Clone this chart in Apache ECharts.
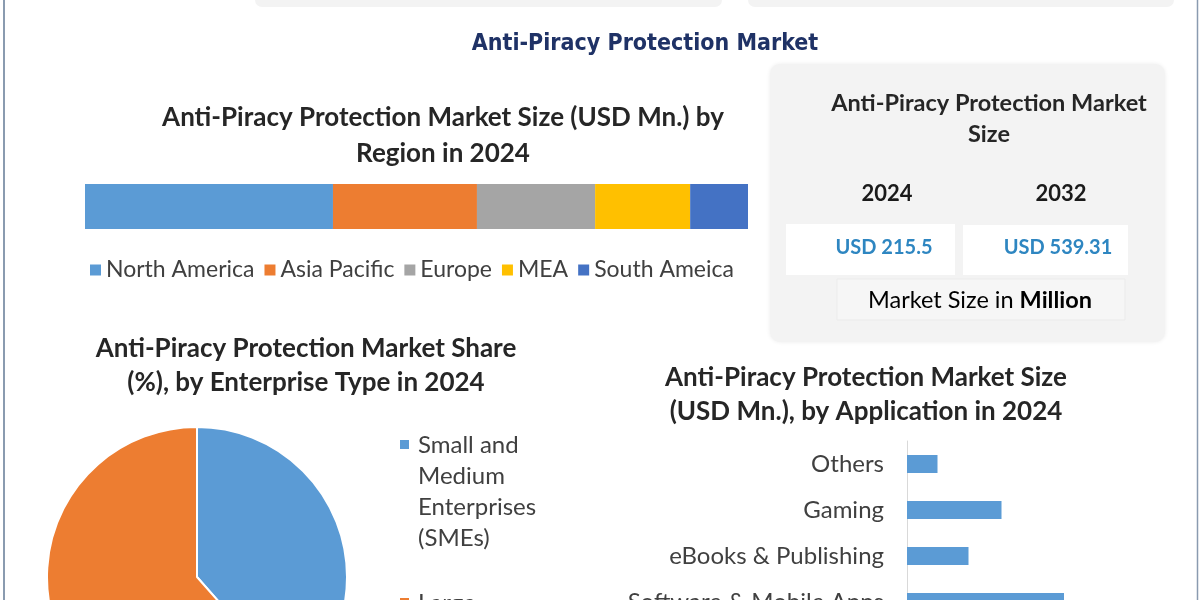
<!DOCTYPE html>
<html>
<head>
<meta charset="utf-8">
<script src="https://cdn.jsdelivr.net/npm/echarts@6/dist/echarts.min.js"></script>
<style>
html,body{margin:0;padding:0;background:#fff;}
#c{width:1200px;height:600px;}
</style>
</head>
<body>
<div id="c"></div>
<script>
// ---- data ----
const regionNames = ['North America', 'Asia Pacific', 'Europe', 'MEA', 'South Ameica'];
const regionValues = [80.6, 46.8, 38.4, 30.9, 18.8];
const regionColors = ['#5b9bd5', '#ed7d31', '#a5a5a5', '#ffc000', '#4472c4'];

const enterpriseTypes = ['Small and\nMedium\nEnterprises\n(SMEs)', 'Large\nEnterprises'];
const enterpriseShares = [38.5, 61.5];
const enterpriseColors = ['#5b9bd5', '#ed7d31'];

const applications = ['Others', 'Gaming', 'eBooks & Publishing', 'Software & Mobile Apps'];
const applicationValues = [12.2, 37.8, 24.6, 62.8];

const marketYears = ['2024', '2032'];
const marketSizes = ['215.5', '539.31'];

// ---- chart ----
const FONT = 'Lato, "Noto Sans", sans-serif';
const chart = echarts.init(document.getElementById('c'));
const regionTotal = regionValues.reduce((a, b) => a + b, 0);

const regionSeries = regionNames.map((n, i) => ({
  name: n, type: 'bar', stack: 'region', xAxisIndex: 0, yAxisIndex: 0,
  data: [regionValues[i]], barWidth: 45,
  itemStyle: { color: regionColors[i] }, silent: true
}));

// pie legend built from data
const pieLegend = [];
let ly = 430;
enterpriseTypes.forEach((t, i) => {
  pieLegend.push({ type: 'rect', shape: { x: 400, y: ly + 10, width: 9, height: 9 }, style: { fill: enterpriseColors[i] } });
  pieLegend.push({ type: 'text', x: 418, y: ly, style: { text: t, font: '24px ' + FONT, fill: '#404040', lineHeight: 31 } });
  ly += 158;
});

const boxX = [884, 1058];
const boxes = [];
marketYears.forEach((y, i) => {
  boxes.push({ type: 'text', x: boxX[i] + 3, y: 194, style: { text: y, font: 'bold 22px ' + FONT, fill: '#1a1a1a', textAlign: 'center', textVerticalAlign: 'middle' } });
  boxes.push({ type: 'text', x: boxX[i], y: 248, style: { text: 'USD ' + marketSizes[i], font: 'bold 20px ' + FONT, fill: '#2e86c1', textAlign: 'center', textVerticalAlign: 'middle' } });
});

chart.setOption({
  backgroundColor: '#ffffff',
  animation: false,
  textStyle: { fontFamily: FONT },
  title: [
    { text: 'Anti-Piracy Protection Market', left: 645, top: 31, textAlign: 'center', padding: 0,
      textStyle: { fontFamily: '"Liberation Sans Narrow", "DejaVu Sans Condensed", sans-serif', fontWeight: 'bold', fontSize: 23, color: '#1f3266', lineHeight: 26 } },
    { text: 'Anti-Piracy Protection Market Size (USD Mn.) by\nRegion in 2024', left: 443, top: 100, textAlign: 'center', padding: 0,
      textStyle: { fontFamily: FONT, fontWeight: 'bold', fontSize: 26, color: '#262626', lineHeight: 36 } },
    { text: 'Anti-Piracy Protection Market Share\n(%), by Enterprise Type in 2024', left: 306, top: 332, textAlign: 'center', padding: 0,
      textStyle: { fontFamily: FONT, fontWeight: 'bold', fontSize: 26, color: '#262626', lineHeight: 34 } },
    { text: 'Anti-Piracy Protection Market Size\n(USD Mn.), by Application in 2024', left: 866, top: 361, textAlign: 'center', padding: 0,
      textStyle: { fontFamily: FONT, fontWeight: 'bold', fontSize: 26, color: '#262626', lineHeight: 34 } }
  ],
  legend: {
    data: regionNames, left: 90, top: 258, padding: 0, itemGap: 10, itemWidth: 11, itemHeight: 11, icon: 'rect',
    selectedMode: false,
    textStyle: { fontFamily: FONT, fontSize: 23, color: '#404040', lineHeight: 24 }
  },
  grid: [
    { left: 85, top: 184, width: 663, height: 45, outerBoundsMode: 'none' },
    { left: 907, top: 441, width: 250, height: 184, outerBoundsMode: 'none' }
  ],
  xAxis: [
    { type: 'value', gridIndex: 0, min: 0, max: regionTotal, show: false },
    { type: 'value', gridIndex: 1, min: 0, max: 100, show: false }
  ],
  yAxis: [
    { type: 'category', gridIndex: 0, data: ['2024'], show: false },
    { type: 'category', gridIndex: 1, data: applications, inverse: true,
      axisLine: { lineStyle: { color: '#d9d9d9', width: 1 } },
      axisTick: { length: 8, lineStyle: { color: '#d9d9d9' } },
      axisLabel: { fontFamily: FONT, fontSize: 24, color: '#404040', margin: 23 } }
  ],
  series: regionSeries.concat([
    { type: 'bar', name: 'Application', xAxisIndex: 1, yAxisIndex: 1, data: applicationValues, barWidth: 18,
      itemStyle: { color: '#5b9bd5' }, silent: true },
    { type: 'pie', name: 'Enterprise', center: [197, 577], radius: 150, startAngle: 90, clockwise: true,
      label: { show: false }, labelLine: { show: false }, silent: true,
      itemStyle: { borderColor: '#ffffff', borderWidth: 2 },
      data: enterpriseTypes.map((t, i) => ({ name: t, value: enterpriseShares[i], itemStyle: { color: enterpriseColors[i] } })) }
  ]),
  graphic: [
    // frame lines
    { type: 'line', shape: { x1: 4, y1: 0, x2: 4, y2: 600 }, style: { stroke: '#8a9bb0', lineWidth: 2 }, z: 0 },
    { type: 'line', shape: { x1: 1197.5, y1: 0, x2: 1197.5, y2: 600 }, style: { stroke: '#8a9bb0', lineWidth: 1.5 }, z: 0 },
    // top cut-off boxes
    { type: 'rect', shape: { x: 255, y: -12, width: 467, height: 19, r: 7 }, style: { fill: '#f3f3f3' }, z: 0 },
    { type: 'rect', shape: { x: 748, y: -12, width: 426, height: 19, r: 7 }, style: { fill: '#f3f3f3' }, z: 0 },
    // market size box
    { type: 'rect', shape: { x: 770, y: 64, width: 395, height: 278, r: 10 },
      style: { fill: '#f3f3f3', shadowBlur: 4, shadowColor: 'rgba(0,0,0,0.08)' }, z: 0 },
    { type: 'text', x: 989, y: 103, style: { text: 'Anti-Piracy Protection Market', font: 'bold 23.5px ' + FONT, fill: '#262626', textAlign: 'center', textVerticalAlign: 'middle' } },
    { type: 'text', x: 989, y: 134, style: { text: 'Size', font: 'bold 23.5px ' + FONT, fill: '#262626', textAlign: 'center', textVerticalAlign: 'middle' } },
    { type: 'rect', shape: { x: 786, y: 224, width: 169, height: 51 }, style: { fill: '#ffffff' }, z: 1 },
    { type: 'rect', shape: { x: 963, y: 225, width: 165, height: 50 }, style: { fill: '#ffffff' }, z: 1 },
    { type: 'rect', shape: { x: 837, y: 279, width: 288, height: 41 }, style: { fill: '#f6f6f6', stroke: '#ebebeb', lineWidth: 1 }, z: 1 },
    { type: 'text', x: 980, y: 300, z: 2, style: { text: '{n|Market Size in }{b|Million}', textAlign: 'center', textVerticalAlign: 'middle',
      rich: { n: { fontFamily: FONT, fontSize: 23.5, color: '#262626' }, b: { fontFamily: FONT, fontSize: 23.5, fontWeight: 'bold', color: '#1a1a1a' } } } }
  ].concat(boxes.map(b => Object.assign({ z: 2 }, b))).concat(pieLegend)
});
</script>
</body>
</html>
